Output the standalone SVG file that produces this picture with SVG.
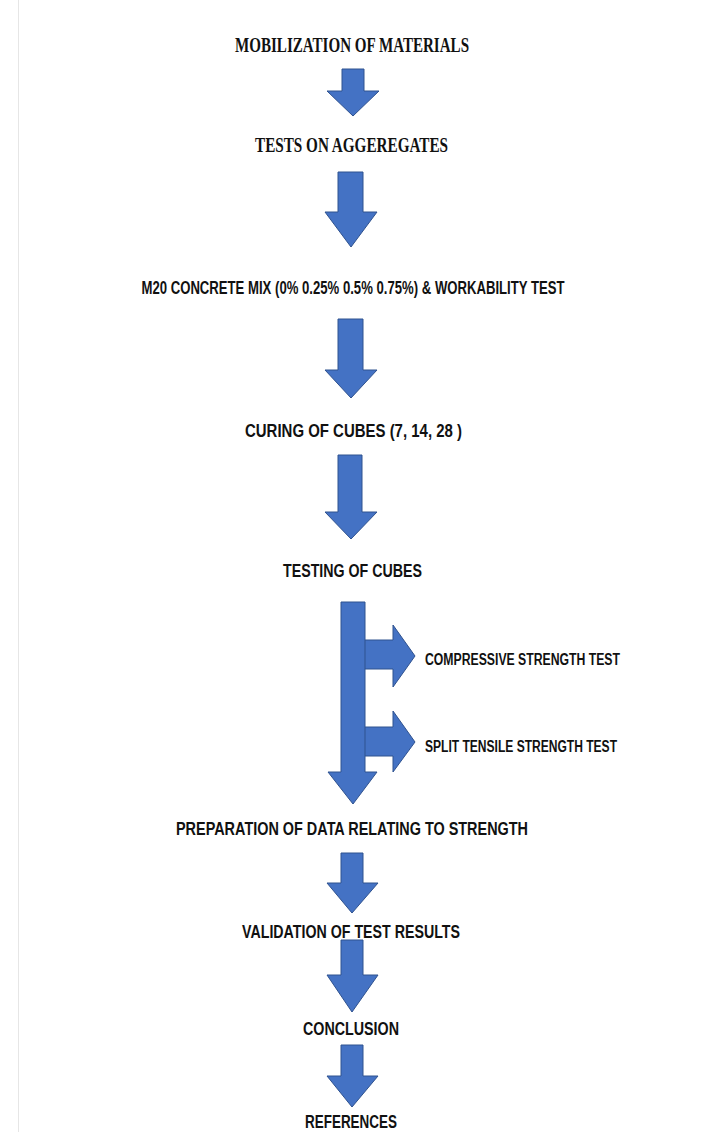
<svg xmlns="http://www.w3.org/2000/svg" width="718" height="1132" viewBox="0 0 718 1132">
<style>
.arr{fill:#4472C4;stroke:#2F528F;stroke-width:1;stroke-linejoin:miter}
.ser{font-family:"Liberation Serif","Times New Roman",serif;font-weight:bold;font-size:20px;fill:#111111}
.san{font-family:"Liberation Sans",Arial,sans-serif;font-weight:bold;font-size:19px;fill:#111111}
</style>
<rect width="718" height="1132" fill="#ffffff"/>
<line x1="18.5" y1="0" x2="18.5" y2="1132" stroke="#e6e6e6" stroke-width="1"/>
<g id="connectors">
<path class="arr" d="M342,69 H364 V91 H379 L353,116 L327,91 H342 Z"/>
<path class="arr" d="M338,172 H363 V212 H377 L351,247 L325,212 H338 Z"/>
<path class="arr" d="M338,319 H363 V370 H377 L351,398 L325,370 H338 Z"/>
<path class="arr" d="M338,455 H362 V512 H377 L351,539 L325,512 H338 Z"/>
<path class="arr" d="M364,640 H393 V625 L415,656 L393,687 V669 H364 Z"/>
<path class="arr" d="M364,727 H393 V711 L415,742 L393,772 V756 H364 Z"/>
<path class="arr" d="M341,602 H365 V772 H377 L353,804 L328,772 H341 Z"/>
<path class="arr" d="M341,853 H363 V883 H378 L352,913 L327,883 H341 Z"/>
<path class="arr" d="M341,940 H363 V975 H378 L352,1012 L327,975 H341 Z"/>
<path class="arr" d="M341,1045 H363 V1076 H378 L352,1107 L327,1076 H341 Z"/>
</g>
<g id="n1"><text class="ser" x="352" y="52" text-anchor="middle" textLength="234" lengthAdjust="spacingAndGlyphs">MOBILIZATION OF MATERIALS</text></g>
<g id="n2"><text class="ser" x="351.5" y="152" text-anchor="middle" textLength="193" lengthAdjust="spacingAndGlyphs">TESTS ON AGGEREGATES</text></g>
<g id="n3" transform="translate(353,294) scale(0.73,1)"><text class="san" x="0" y="0" text-anchor="middle" style="font-size:18px">M20 CONCRETE MIX (0% 0.25% 0.5% 0.75%) &amp; WORKABILITY TEST</text></g>
<g id="n4"><text class="san" x="353.5" y="437" text-anchor="middle" textLength="217" lengthAdjust="spacingAndGlyphs">CURING OF CUBES (7, 14, 28 )</text></g>
<g id="n5"><text class="san" x="352.5" y="577" text-anchor="middle" textLength="139" lengthAdjust="spacingAndGlyphs">TESTING OF CUBES</text></g>
<g id="n6"><text class="san" x="425" y="665" textLength="195" lengthAdjust="spacingAndGlyphs" style="font-size:16px">COMPRESSIVE STRENGTH TEST</text></g>
<g id="n7"><text class="san" x="425" y="752" textLength="192" lengthAdjust="spacingAndGlyphs" style="font-size:16px">SPLIT TENSILE STRENGTH TEST</text></g>
<g id="n8"><text class="san" x="352" y="835" text-anchor="middle" textLength="352" lengthAdjust="spacingAndGlyphs">PREPARATION OF DATA RELATING TO STRENGTH</text></g>
<g id="n9"><text class="san" x="351" y="938" text-anchor="middle" textLength="218" lengthAdjust="spacingAndGlyphs">VALIDATION OF TEST RESULTS</text></g>
<g id="n10"><text class="san" x="351" y="1035" text-anchor="middle" textLength="96" lengthAdjust="spacingAndGlyphs">CONCLUSION</text></g>
<g id="n11"><text class="san" x="351" y="1128" text-anchor="middle" textLength="92" lengthAdjust="spacingAndGlyphs">REFERENCES</text></g>
</svg>
